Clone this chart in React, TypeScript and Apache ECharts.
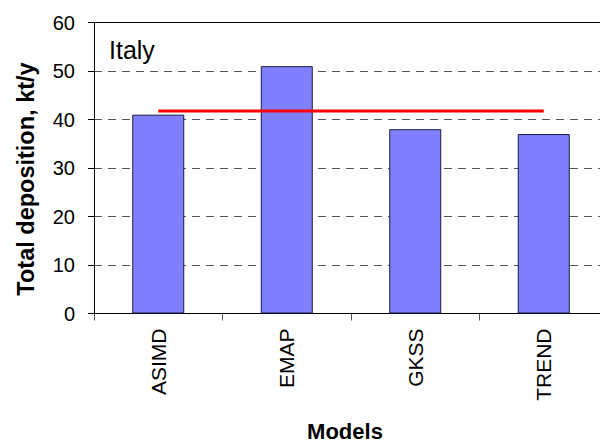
import React, { useEffect, useRef } from "react";
import * as echarts from "echarts";

const categories = ["ASIMD", "EMAP", "GKSS", "TREND"];
const depositionValues = [41, 51, 38, 37];
const meanValues = [41.75, 41.75, 41.75, 41.75];
const regionLabel = "Italy";

export default function App() {
  const ref = useRef<HTMLDivElement>(null);
  useEffect(() => {
    if (!ref.current) return;
    const chart = echarts.init(ref.current, undefined, { renderer: "svg" });
    const font = "Arial, 'Liberation Sans', sans-serif";
    chart.setOption({
      animation: false,
      backgroundColor: "#ffffff",
      grid: {
        left: 94,
        right: -8,
        top: 22.5,
        bottom: 129.5,
        containLabel: false,
        outerBoundsMode: "none",
      },
      graphic: [
        {
          type: "text",
          left: 109,
          top: 37,
          style: { text: regionLabel, font: `25px ${font}`, fill: "#000" },
        },
      ],
      xAxis: [
        {
          type: "category",
          data: categories,
          position: "bottom",
          axisLine: { lineStyle: { color: "#000", width: 1 } },
          axisTick: { show: true, length: 7, lineStyle: { color: "#555" } },
          axisLabel: {
            rotate: 90,
            margin: 15,
            fontSize: 21,
            fontFamily: font,
            color: "#000",
          },
          name: "Models",
          nameLocation: "middle",
          nameGap: 107,
          nameTextStyle: {
            fontSize: 22,
            fontWeight: "bold",
            fontFamily: font,
            color: "#000",
            padding: [0, 12, 0, 0],
          },
        },
        {
          type: "category",
          data: categories,
          position: "top",
          axisLine: { show: true, lineStyle: { color: "#000", width: 1 } },
          axisTick: { show: false },
          axisLabel: { show: false },
        },
      ],
      yAxis: {
        type: "value",
        min: 0,
        max: 60,
        interval: 10,
        axisLine: { show: true, lineStyle: { color: "#000", width: 1 } },
        axisTick: { show: true, length: 6, lineStyle: { color: "#000" } },
        axisLabel: { margin: 19, fontSize: 20, fontFamily: font, color: "#000" },
        splitLine: { show: true, lineStyle: { color: "#555", type: [8, 6], width: 1 } },
        name: "Total deposition, kt/y",
        nameLocation: "middle",
        nameGap: 56,
        nameTextStyle: {
          fontSize: 23.5,
          fontWeight: "bold",
          fontFamily: font,
          color: "#000",
          padding: [0, 22, 0, 0],
        },
      },
      series: [
        {
          type: "bar",
          data: depositionValues,
          barWidth: 52,
          itemStyle: { color: "#8080ff", borderColor: "#1a1a3a", borderWidth: 1 },
          z: 2,
        },
        {
          type: "line",
          data: meanValues,
          symbol: "none",
          lineStyle: { color: "#ff0000", width: 3 },
          z: 3,
        },
      ],
    });
    return () => chart.dispose();
  }, []);
  return (
    <div
      ref={ref}
      style={{ position: "absolute", left: 0, top: 0, width: 600, height: 443 }}
    />
  );
}
